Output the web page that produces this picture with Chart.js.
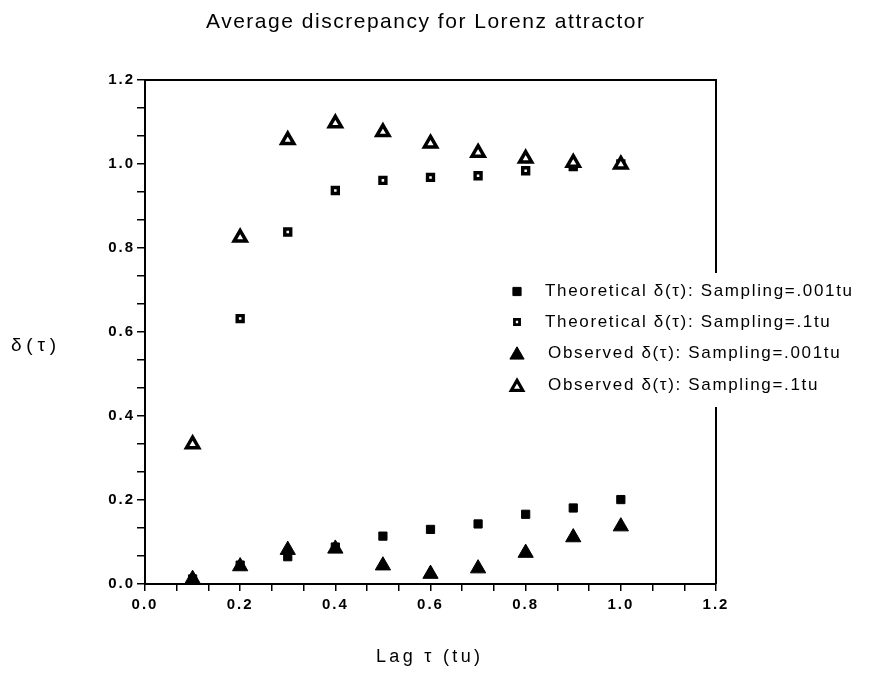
<!DOCTYPE html>
<html>
<head>
<meta charset="utf-8">
<script src="https://cdn.jsdelivr.net/npm/chart.js@4.4.1/dist/chart.umd.min.js"></script>
<style>
  html, body { margin: 0; padding: 0; background: #fff; }
  #wrap { width: 880px; height: 684px; }
</style>
</head>
<body>
<div id="wrap"><canvas id="lorenzChart" width="880" height="684"></canvas></div>
<script>
// lag values (tu)
const lags = [0.1, 0.2, 0.3, 0.4, 0.5, 0.6, 0.7, 0.8, 0.9, 1.0];

const theoFine   = [0.012, 0.045, 0.065, 0.088, 0.114, 0.130, 0.143, 0.166, 0.181, 0.201];
const theoCoarse = [null, 0.632, 0.838, 0.937, 0.961, 0.968, 0.972, 0.984, 0.994, 1.000];
const obsFine    = [0.012, 0.042, 0.081, 0.084, 0.044, 0.024, 0.037, 0.074, 0.111, 0.137];
const obsCoarse  = [0.333, 0.825, 1.057, 1.097, 1.076, 1.049, 1.027, 1.013, 1.003, 0.999];

const seriesNames = [
  'Theoretical δ(τ): Sampling=.001tu',
  'Theoretical δ(τ): Sampling=.1tu',
  'Observed δ(τ): Sampling=.001tu',
  'Observed δ(τ): Sampling=.1tu'
];

const xTickLabels = ['0.0', '0.2', '0.4', '0.6', '0.8', '1.0', '1.2'];
const yTickLabels = ['0.0', '0.2', '0.4', '0.6', '0.8', '1.0', '1.2'];

const titleText = 'Average discrepancy for Lorenz attractor';
const xTitle = 'Lag τ (tu)';
const yTitle = 'δ(τ)';

const toPoints = vals => lags.map((x, i) => ({ x: x, y: vals[i] }));

// major ticks from the label arrays, two minor ticks between each pair
function buildTicks(labels) {
  const majors = labels.map(Number);
  const ticks = [];
  for (let i = 0; i < majors.length; i++) {
    ticks.push({ value: majors[i], major: true });
    if (i < majors.length - 1) {
      const step = (majors[i + 1] - majors[i]) / 3;
      ticks.push({ value: majors[i] + step });
      ticks.push({ value: majors[i] + 2 * step });
    }
  }
  return ticks;
}

function tickLabel(labels) {
  return function (value) {
    const hit = labels.find(l => Math.abs(Number(l) - value) < 1e-6);
    return hit || '';
  };
}

const datasets = [
  {
    label: seriesNames[0],
    data: toPoints(theoFine),
    pointStyle: 'rect',
    pointRadius: 5.8,
    backgroundColor: '#000',
    borderColor: '#000',
    borderWidth: 1,
    order: 1
  },
  {
    label: seriesNames[1],
    data: toPoints(theoCoarse),
    pointStyle: 'rect',
    pointRadius: 4.2,
    backgroundColor: '#fff',
    borderColor: '#000',
    borderWidth: 3.4,
    order: 1
  },
  {
    label: seriesNames[2],
    data: toPoints(obsFine),
    pointStyle: 'triangle',
    pointRadius: 8.8,
    backgroundColor: '#000',
    borderColor: '#000',
    borderWidth: 1,
    order: 0
  },
  {
    label: seriesNames[3],
    data: toPoints(obsCoarse),
    pointStyle: 'triangle',
    pointRadius: 7,
    backgroundColor: '#fff',
    borderColor: '#000',
    borderWidth: 3.5,
    order: 0
  }
];

// legend marker sizes (the dotted square is drawn a little smaller there)
const legendRadius = [5.8, 3.6, 8.2, 6.6];
const legendBorder = [1, 2.8, 1, 3.2];

// text with letter spacing, squeezed/stretched to a given width
function spacedText(ctx, text, x, y, font, width, align, spacing) {
  ctx.save();
  ctx.font = font;
  ctx.letterSpacing = '0px';
  const raw = ctx.measureText(text).width;
  let sp = spacing;
  let sx = 1;
  if (sp === undefined) {
    sp = (width - raw) / (text.length - 1);
  } else {
    sx = width / (raw + sp * (text.length - 1));
  }
  ctx.letterSpacing = sp + 'px';
  ctx.fillStyle = '#000';
  ctx.textBaseline = 'middle';
  ctx.textAlign = 'left';
  const x0 = align === 'center' ? x - width / 2 : x;
  ctx.translate(x0, y);
  ctx.scale(sx, 1);
  ctx.fillText(text, 0, 0);
  ctx.restore();
  return sp;
}

const decorations = {
  id: 'decorations',
  beforeDraw(chart) {
    chart.ctx.letterSpacing = '2px';
  },
  afterDraw(chart) {
    const ctx = chart.ctx;
    const area = chart.chartArea;
    ctx.save();
    ctx.letterSpacing = '0px';

    // top and right frame
    ctx.strokeStyle = '#000';
    ctx.lineWidth = 2;
    ctx.beginPath();
    ctx.moveTo(area.left, area.top);
    ctx.lineTo(area.right, area.top);
    ctx.lineTo(area.right, area.bottom);
    ctx.stroke();

    // legend box sitting over the frame
    const lx = 500, ly = 273, lw = 370, lh = 134;
    ctx.fillStyle = '#fff';
    ctx.fillRect(lx, ly, lw, lh);

    const rows = [291.5, 322, 353, 385];
    const markX = 517;
    const hasDraw = Chart.helpers && Chart.helpers.drawPoint;
    const legendFont = '17px "Liberation Sans", Arial, sans-serif';
    let sp = null;
    datasets.forEach((ds, i) => {
      ctx.fillStyle = ds.backgroundColor;
      ctx.strokeStyle = ds.borderColor;
      ctx.lineWidth = legendBorder[i];
      const my = ds.pointStyle === 'triangle' ? rows[i] + 2 : rows[i];
      if (hasDraw) {
        Chart.helpers.drawPoint(ctx, {
          pointStyle: ds.pointStyle,
          radius: legendRadius[i],
          rotation: 0,
          borderWidth: legendBorder[i]
        }, markX, my);
      }
      const tx = ds.pointStyle === 'triangle' ? 548 : 545;
      if (i === 0) {
        sp = spacedText(ctx, ds.label, tx, rows[i], legendFont, 307);
      } else {
        ctx.save();
        ctx.font = legendFont;
        ctx.letterSpacing = sp + 'px';
        ctx.fillStyle = '#000';
        ctx.textBaseline = 'middle';
        ctx.fillText(ds.label, tx, rows[i]);
        ctx.restore();
      }
    });

    // title and axis titles
    spacedText(ctx, titleText, 425, 22, '21px "Liberation Sans", Arial, sans-serif', 438, 'center', 1.5);
    spacedText(ctx, xTitle, 428, 657, '18px "Liberation Sans", Arial, sans-serif', 104, 'center');
    spacedText(ctx, yTitle, 11, 346, '19px "Liberation Sans", Arial, sans-serif', 45);
    ctx.restore();
  }
};

const axisCommon = {
  type: 'linear',
  min: 0,
  max: 1.2,
  grid: {
    drawOnChartArea: false,
    drawTicks: true,
    color: '#000',
    lineWidth: 1.5
  },
  border: { display: true, color: '#000', width: 2 },
  ticks: {
    color: '#000',
    font: { family: '"Liberation Sans", Arial, sans-serif', size: 15, weight: 'bold' }
  }
};

new Chart(document.getElementById('lorenzChart'), {
  type: 'scatter',
  data: { datasets: datasets },
  options: {
    responsive: false,
    animation: false,
    devicePixelRatio: 1,
    layout: { padding: { left: 0, right: 164, top: 80, bottom: 0 } },
    plugins: {
      legend: { display: false },
      title: { display: false },
      tooltip: { enabled: false }
    },
    scales: {
      x: {
        ...axisCommon,
        grid: { ...axisCommon.grid, tickLength: 7 },
        ticks: { ...axisCommon.ticks, padding: 5, maxRotation: 0, autoSkip: false, callback: tickLabel(xTickLabels) },
        afterBuildTicks(scale) { scale.ticks = buildTicks(xTickLabels); },
        afterFit(scale) { scale.height = 100; }
      },
      y: {
        ...axisCommon,
        grid: { ...axisCommon.grid, tickLength: 8 },
        ticks: { ...axisCommon.ticks, padding: 2, autoSkip: false, callback: tickLabel(yTickLabels) },
        afterBuildTicks(scale) { scale.ticks = buildTicks(yTickLabels); },
        afterFit(scale) { scale.height; scale.width = 145; }
      }
    }
  },
  plugins: [decorations]
});
</script>
</body>
</html>
